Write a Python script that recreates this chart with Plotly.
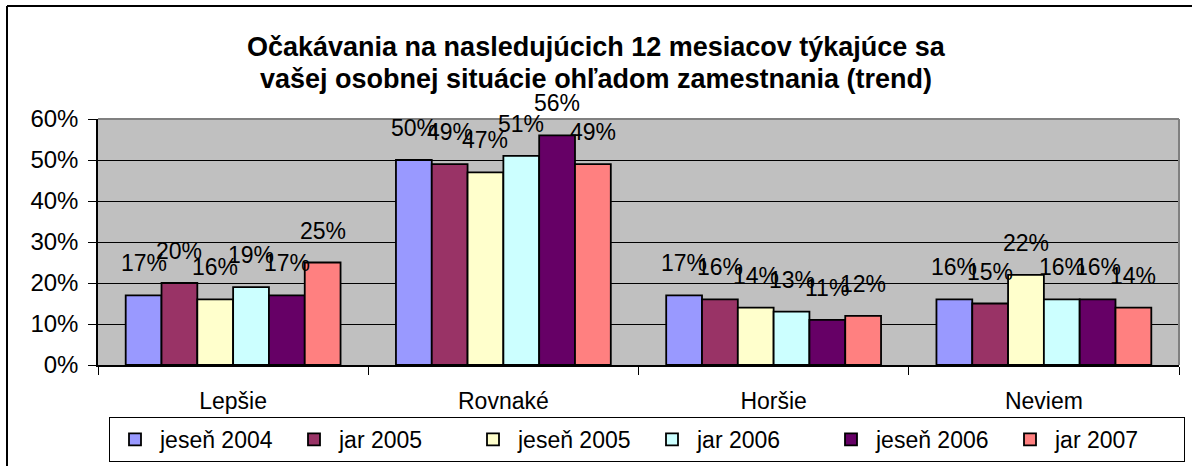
import plotly.graph_objects as go

categories = ["Lepšie", "Rovnaké", "Horšie", "Neviem"]
series_names = ["jeseň 2004", "jar 2005", "jeseň 2005", "jar 2006", "jeseň 2006", "jar 2007"]
jesen_2004 = [0.17, 0.50, 0.17, 0.16]
jar_2005 = [0.20, 0.49, 0.16, 0.15]
jesen_2005 = [0.16, 0.47, 0.14, 0.22]
jar_2006 = [0.19, 0.51, 0.13, 0.16]
jesen_2006 = [0.17, 0.56, 0.11, 0.16]
jar_2007 = [0.25, 0.49, 0.12, 0.14]
series_values = [jesen_2004, jar_2005, jesen_2005, jar_2006, jesen_2006, jar_2007]
colors = ["#9999FF", "#993366", "#FFFFCC", "#CCFFFF", "#660066", "#FF8080"]
title_lines = ["Očakávania na nasledujúcich 12 mesiacov týkajúce sa",
               "vašej osobnej situácie ohľadom zamestnania (trend)"]

W, H = 1192, 466
ML, MR, MT, MB = 98, 13, 119, 101
PW = W - ML - MR
PH = H - MT - MB


def xp(px):
    return (px - ML) / PW


def yp(py):
    return (H - MB - py) / PH


FONT = "Liberation Sans, Arial, sans-serif"
BARGAP = 0.205

fig = go.Figure()
for name, vals, col in zip(series_names, series_values, colors):
    fig.add_trace(go.Bar(
        name=name, x=categories, y=vals,
        marker=dict(color=col, line=dict(color="black", width=1.8)),
        hoverinfo="skip",
    ))

# data labels
n = len(series_names)
group_w = 1 - BARGAP
bar_w = group_w / n
annotations = []
for j, vals in enumerate(series_values):
    for i, v in enumerate(vals):
        annotations.append(dict(
            x=i - group_w / 2 + (j + 0.5) * bar_w, y=v, xref="x", yref="y",
            text=f"{round(v * 100)}%", showarrow=False,
            yanchor="middle", xanchor="center", yshift=32,
            font=dict(family=FONT, size=23, color="black"),
        ))

# title lines
for line, ypx in zip(title_lines, [47, 79]):
    annotations.append(dict(x=xp(W / 2), y=yp(ypx), xref="paper", yref="paper", text=f"<b>{line}</b>",
                            showarrow=False, xanchor="center", yanchor="middle",
                            font=dict(family=FONT, size=27, color="black")))

shapes = [
    # plot area border top and right (gray)
    dict(type="line", xref="paper", yref="paper", x0=0, x1=1, y0=1, y1=1, line=dict(color="#808080", width=2), layer="above"),
    dict(type="line", xref="paper", yref="paper", x0=1, x1=1, y0=0, y1=1, line=dict(color="#808080", width=2), layer="above"),
    # outer chart border
    dict(type="line", xref="paper", yref="paper", x0=xp(7), x1=xp(W + 10), y0=yp(6), y1=yp(6), line=dict(color="black", width=2)),
    dict(type="line", xref="paper", yref="paper", x0=xp(7), x1=xp(7), y0=yp(6), y1=yp(H + 10), line=dict(color="black", width=2)),
]

fig.update_layout(
    width=W, height=H,
    margin=dict(l=ML, r=MR, t=MT, b=MB, pad=0, autoexpand=False),
    paper_bgcolor="white", plot_bgcolor="#C0C0C0",
    barmode="group", bargap=BARGAP, bargroupgap=0,
    font=dict(family=FONT, size=23, color="black"),
    showlegend=True,
    legend=dict(orientation="h", x=xp(109), y=yp(462), xanchor="left", yanchor="bottom",
                bgcolor="white", bordercolor="black", borderwidth=1,
                font=dict(family=FONT, size=23, color="black"),
                itemwidth=40, entrywidth=124, entrywidthmode="pixels",
                itemclick=False, itemdoubleclick=False, traceorder="normal"),
    annotations=annotations,
    shapes=shapes,
)
fig.update_xaxes(type="category", showline=True, linecolor="black", linewidth=1.5,
                 ticks="outside", tickson="boundaries", ticklen=8, tickcolor="black", tickwidth=1,
                 showgrid=False, ticklabelstandoff=15, tickfont=dict(size=23),
                 range=[-0.5, len(categories) - 0.5], fixedrange=True, automargin=False)
fig.update_yaxes(range=[0, 0.6], dtick=0.1, tickformat=".0%", showgrid=True, gridcolor="black",
                 gridwidth=1, zeroline=False, showline=True, linecolor="black", linewidth=1.5,
                 ticks="outside", ticklen=8, tickcolor="black", tickwidth=1,
                 ticklabelstandoff=5, tickfont=dict(size=24), fixedrange=True, automargin=False)

fig.write_html("out.html", config={"displayModeBar": False},
               post_script="document.body.style.margin='0px';")
